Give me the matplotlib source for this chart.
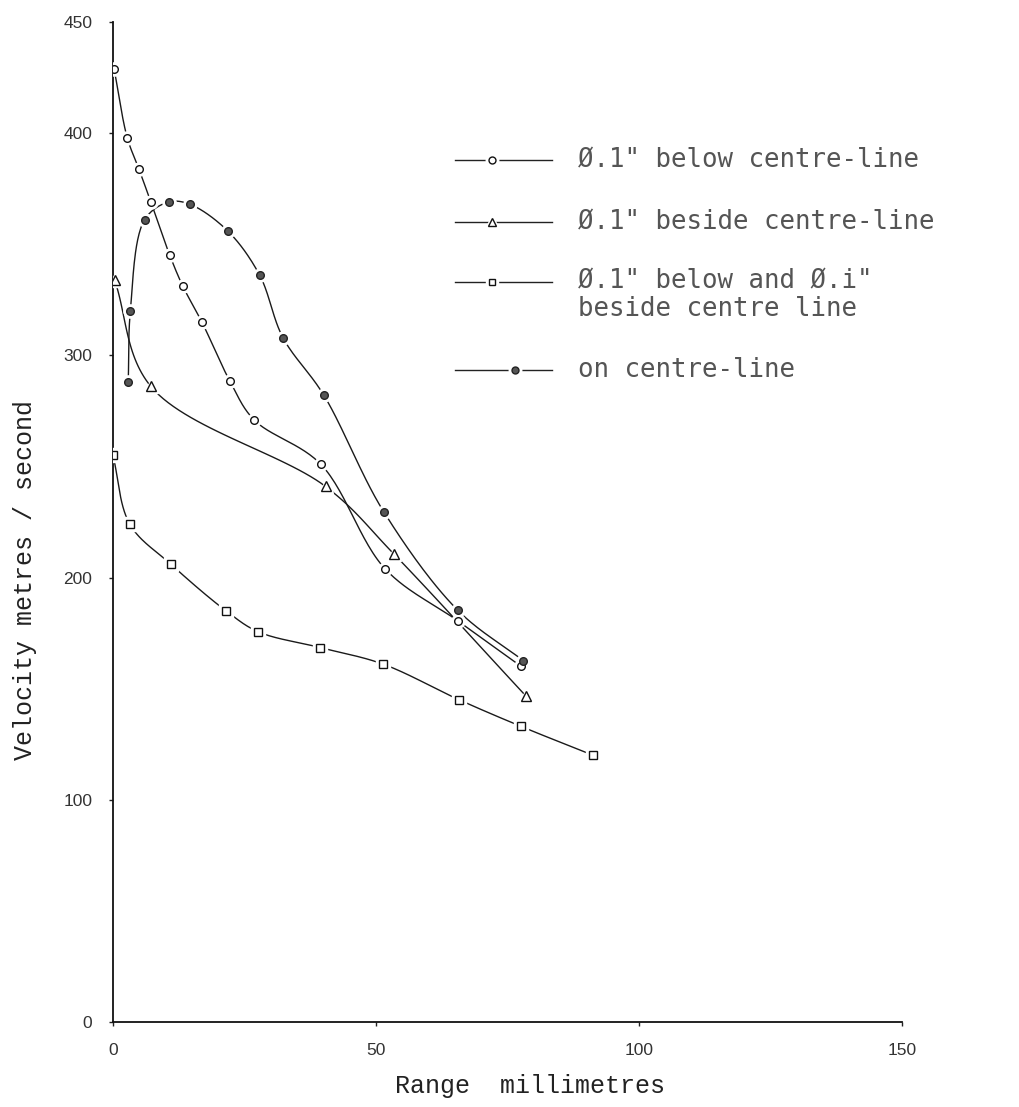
import numpy as np
import matplotlib
matplotlib.use("Agg")
import matplotlib.pyplot as plt
from matplotlib.lines import Line2D

# ---- data ----
below_x = [0.2, 2.7, 4.9, 7.2, 10.8, 13.3, 16.9, 22.2, 26.8, 39.5, 51.7, 65.5, 77.6]
below_y = [429, 398, 384, 369, 345, 331, 315, 288.5, 271, 251, 204, 180.6, 160]

beside_x = [0.3, 7.2, 40.4, 53.4, 78.5]
beside_y = [334, 286, 241, 210.6, 146.7]

both_x = [0.0, 3.2, 11.0, 21.5, 27.6, 39.4, 51.4, 65.8, 77.6, 91.3]
both_y = [255, 224, 206, 185, 175.6, 168.5, 161, 145, 133, 120]

on_x = [2.9, 3.3, 6.0, 10.6, 14.6, 21.8, 27.9, 32.3, 40.1, 51.5, 65.5, 78.0]
on_y = [288, 320, 361, 369, 368, 356, 336, 308, 282, 229.5, 185.4, 162.6]

x_ticks = [0, 50, 100, 150]
y_ticks = [0, 100, 200, 300, 400, 450]

legend_labels = ['Ø.1" below centre-line',
                 'Ø.1" beside centre-line',
                 'Ø.1" below and Ø.i"\nbeside centre line',
                 'on centre-line']

# pixel scale of the axes (used only to shape the smoothed curves)
SX, SY = 5.26, 2.222


def catmull_rom(xs, ys, n=30, alpha=0.5):
    """Smooth curve through the given points (centripetal Catmull-Rom, screen space)."""
    P = np.column_stack([np.asarray(xs, float) * SX, np.asarray(ys, float) * SY])
    P = np.vstack([2 * P[0] - P[1], P, 2 * P[-1] - P[-2]])
    out = []
    for i in range(1, len(P) - 2):
        p0, p1, p2, p3 = P[i - 1], P[i], P[i + 1], P[i + 2]
        t0 = 0.0
        t1 = t0 + max(np.linalg.norm(p1 - p0), 1e-6) ** alpha
        t2 = t1 + max(np.linalg.norm(p2 - p1), 1e-6) ** alpha
        t3 = t2 + max(np.linalg.norm(p3 - p2), 1e-6) ** alpha
        t = np.linspace(t1, t2, n)[:, None]
        a1 = (t1 - t) / (t1 - t0) * p0 + (t - t0) / (t1 - t0) * p1
        a2 = (t2 - t) / (t2 - t1) * p1 + (t - t1) / (t2 - t1) * p2
        a3 = (t3 - t) / (t3 - t2) * p2 + (t - t2) / (t3 - t2) * p3
        b1 = (t2 - t) / (t2 - t0) * a1 + (t - t0) / (t2 - t0) * a2
        b2 = (t3 - t) / (t3 - t1) * a2 + (t - t1) / (t3 - t1) * a3
        c = (t2 - t) / (t2 - t1) * b1 + (t - t1) / (t2 - t1) * b2
        out.append(c if i == len(P) - 3 else c[:-1])
    C = np.vstack(out)
    return C[:, 0] / SX, C[:, 1] / SY


W, H = 1020, 1107
fig = plt.figure(figsize=(W / 100, H / 100), dpi=100)
fig.patch.set_facecolor("white")

# axes placement in pixels: x 0 -> 113 px, 150 -> 902 px ; y 0 -> 1022 px (from top), 450 -> 22 px
left = 113 / W
width = (902 - 113) / W
bottom = (H - 1022) / H
height = (1022 - 22) / H
ax = fig.add_axes([left, bottom, width, height])
ax.set_xlim(0, 150)
ax.set_ylim(0, 450)

for s in ["top", "right"]:
    ax.spines[s].set_visible(False)
for s in ["left", "bottom"]:
    ax.spines[s].set_linewidth(1.3)
    ax.spines[s].set_color("#111111")

ax.set_xticks(x_ticks)
ax.set_yticks(y_ticks)
ax.tick_params(axis="both", direction="out", length=3, width=1, color="#222222",
               labelsize=12.5, labelcolor="#333333")
ax.tick_params(axis="x", pad=12)
ax.tick_params(axis="y", pad=12)
for lab in ax.get_xticklabels() + ax.get_yticklabels():
    lab.set_fontfamily(["Liberation Sans", "DejaVu Sans"])

lab_font = dict(family=["Liberation Mono", "DejaVu Sans Mono"], fontsize=18, color="#222222")
ax.set_xlabel("Range  millimetres", va="center", **lab_font)
ax.xaxis.set_label_coords((530 - 113) / (902 - 113), -(1086 - 1022) / 1000)
ax.set_ylabel("Velocity metres / second", va="center", **lab_font)
ax.yaxis.set_label_coords(-(113 - 25) / (902 - 113), (1022 - 580) / 1000)

line_kw = dict(color="#1a1a1a", linewidth=1.0, zorder=2)


def draw_series(xs, ys, marker, ms, face, edge):
    cx, cy = catmull_rom(xs, ys)
    ax.plot(cx, cy, **line_kw)
    ax.plot(xs, ys, linestyle="none", marker=marker, ms=ms + 4, mfc="white",
            mec="white", zorder=3)
    ax.plot(xs, ys, linestyle="none", marker=marker, ms=ms, mfc=face,
            mec=edge, mew=1.0, zorder=4)


draw_series(below_x, below_y, "o", 5.5, "white", "#111111")
draw_series(beside_x, beside_y, "^", 6.5, "white", "#111111")
draw_series(both_x, both_y, "s", 6.0, "white", "#111111")
draw_series(on_x, on_y, "o", 5.5, "#555555", "#222222")


# ---- legend drawn by hand (pixel positions converted to axes fraction) ----
def ax_xy(px, py):
    return (px - 113) / (902 - 113), (1022 - py) / 1000


markers = [("o", 5, "white", "#111111"), ("^", 5.5, "white", "#111111"),
           ("s", 5, "white", "#111111"), ("o", 5, "#555555", "#222222")]
rows_y = [160, 222, 282, 370]
mk_x = [492, 492, 492, 515]
for (mk, ms, fc, ec), ry, mx in zip(markers, rows_y, mk_x):
    x0, y0 = ax_xy(455, ry)
    x1, _ = ax_xy(552, ry)
    xm, _ = ax_xy(mx, ry)
    ax.add_line(Line2D([x0, x1], [y0, y0], transform=ax.transAxes, color="#222222",
                       linewidth=1.0, zorder=5, clip_on=False))
    ax.add_line(Line2D([xm], [y0], transform=ax.transAxes, marker=mk, ms=ms + 4,
                       mfc="white", mec="white", linestyle="none", zorder=6, clip_on=False))
    ax.add_line(Line2D([xm], [y0], transform=ax.transAxes, marker=mk, ms=ms,
                       mfc=fc, mec=ec, mew=1.0, linestyle="none", zorder=7, clip_on=False))

for lbl, ry in zip(legend_labels, rows_y):
    two = "\n" in lbl
    tx, ty = ax_xy(578, ry - 14 if two else ry)
    ax.text(tx, ty, lbl, transform=ax.transAxes, ha="left",
            va="top" if two else "center",
            fontsize=18.5, family=["DejaVu Sans Mono"], color="#555555",
            linespacing=1.1, clip_on=False)

fig.savefig("out.png", dpi=100, facecolor="white")
